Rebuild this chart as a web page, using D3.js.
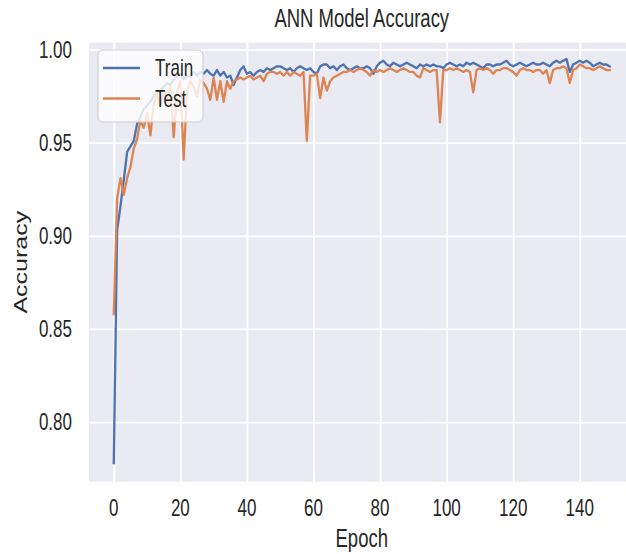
<!DOCTYPE html>
<html>
<head>
<meta charset="utf-8">
<script src="https://cdn.jsdelivr.net/npm/d3@7/dist/d3.min.js"></script>
<style>
  html, body { margin: 0; padding: 0; background: #ffffff; }
  svg { display: block; }
  text { font-family: "Liberation Sans", Arial, sans-serif; fill: #262626; }
</style>
</head>
<body>
<svg id="chart" width="626" height="554"></svg>
<script>
// Training history of the ANN model, one value per epoch
const trainAcc = [
  0.778, 0.903, 0.916, 0.930, 0.945, 0.948, 0.951, 0.960, 0.964, 0.968,
  0.970, 0.972, 0.975, 0.977, 0.978, 0.980, 0.982, 0.981, 0.984, 0.986,
  0.987, 0.984, 0.986, 0.985, 0.988, 0.986, 0.988, 0.987, 0.989, 0.987,
  0.986, 0.989, 0.986, 0.988, 0.985, 0.986, 0.981, 0.985, 0.989, 0.991,
  0.987, 0.988, 0.986, 0.988, 0.989, 0.988, 0.990, 0.989, 0.990, 0.991,
  0.991, 0.990, 0.989, 0.990, 0.988, 0.990, 0.991, 0.990, 0.989, 0.990,
  0.988, 0.987, 0.991, 0.992, 0.992, 0.990, 0.991, 0.989, 0.991, 0.992,
  0.990, 0.989, 0.990, 0.991, 0.990, 0.990, 0.991, 0.990, 0.987, 0.991,
  0.993, 0.994, 0.992, 0.991, 0.993, 0.992, 0.991, 0.992, 0.993, 0.992,
  0.991, 0.990, 0.992, 0.991, 0.992, 0.991, 0.992, 0.991, 0.991, 0.990,
  0.992, 0.993, 0.992, 0.991, 0.992, 0.991, 0.993, 0.992, 0.993, 0.992,
  0.991, 0.990, 0.992, 0.992, 0.991, 0.992, 0.992, 0.993, 0.994, 0.992,
  0.991, 0.992, 0.993, 0.992, 0.991, 0.992, 0.993, 0.992, 0.992, 0.993,
  0.992, 0.991, 0.993, 0.994, 0.993, 0.994, 0.995, 0.988, 0.992, 0.993,
  0.994, 0.993, 0.994, 0.993, 0.991, 0.992, 0.993, 0.992, 0.992, 0.991
];
const testAcc = [
  0.858, 0.920, 0.931, 0.922, 0.931, 0.937, 0.947, 0.952, 0.962, 0.958,
  0.966, 0.954, 0.971, 0.976, 0.970, 0.978, 0.972, 0.980, 0.953, 0.978,
  0.983, 0.941, 0.978, 0.983, 0.980, 0.975, 0.984, 0.982, 0.979, 0.973,
  0.985, 0.973, 0.983, 0.972, 0.983, 0.979, 0.983, 0.984, 0.985, 0.984,
  0.985, 0.986, 0.984, 0.985, 0.986, 0.983, 0.987, 0.988, 0.988, 0.987,
  0.988, 0.986, 0.988, 0.986, 0.988, 0.987, 0.986, 0.988, 0.951, 0.986,
  0.986, 0.987, 0.974, 0.985, 0.978, 0.983, 0.985, 0.986, 0.987, 0.988,
  0.988, 0.989, 0.988, 0.989, 0.990, 0.989, 0.988, 0.986, 0.989, 0.988,
  0.989, 0.988, 0.989, 0.990, 0.989, 0.988, 0.989, 0.990, 0.989, 0.988,
  0.988, 0.986, 0.985, 0.990, 0.989, 0.988, 0.989, 0.989, 0.961, 0.989,
  0.989, 0.990, 0.989, 0.990, 0.989, 0.988, 0.989, 0.988, 0.977, 0.989,
  0.990, 0.989, 0.990, 0.989, 0.987, 0.989, 0.989, 0.990, 0.990, 0.989,
  0.988, 0.986, 0.989, 0.990, 0.989, 0.989, 0.988, 0.989, 0.989, 0.987,
  0.989, 0.982, 0.989, 0.990, 0.990, 0.991, 0.990, 0.982, 0.989, 0.990,
  0.992, 0.991, 0.990, 0.990, 0.989, 0.990, 0.991, 0.990, 0.989, 0.989
];
const xTicks = [0, 20, 40, 60, 80, 100, 120, 140];
const yTicks = [0.80, 0.85, 0.90, 0.95, 1.00];
const seriesNames = ["Train", "Test"];
const seriesColors = ["#4C72B0", "#DD8452"];

const epochs = trainAcc.map((_, i) => i);

const svg = d3.select("#chart");
const W = 626, H = 554;
const plot = { left: 89, right: 634.5, top: 42.7, bottom: 481.7 };
const sx = 0.74; // horizontal squeeze applied to all lettering

const x = d3.scaleLinear().domain([-7.45, 156.45]).range([plot.left, plot.right]);
const y = d3.scaleLinear().domain([0.768, 1.0037]).range([plot.bottom, plot.top]);

// Axes background
svg.append("rect")
  .attr("x", plot.left).attr("y", plot.top)
  .attr("width", plot.right - plot.left).attr("height", plot.bottom - plot.top)
  .attr("fill", "#EAEAF2");

svg.append("clipPath").attr("id", "plotClip")
  .append("rect")
  .attr("x", plot.left).attr("y", plot.top)
  .attr("width", plot.right - plot.left).attr("height", plot.bottom - plot.top);

// Grid lines drawn from the axis generators
const gx = svg.append("g")
  .attr("transform", `translate(0,${plot.bottom})`)
  .call(d3.axisBottom(x).tickValues(xTicks).tickSize(-(plot.bottom - plot.top)).tickFormat(""));
const gy = svg.append("g")
  .attr("transform", `translate(${plot.left},0)`)
  .call(d3.axisLeft(y).tickValues(yTicks).tickSize(-(plot.right - plot.left)).tickFormat(""));
[gx, gy].forEach(g => {
  g.select(".domain").remove();
  g.selectAll(".tick line").attr("stroke", "#ffffff").attr("stroke-width", 1.8);
});

// Tick labels
svg.append("g").selectAll("g")
  .data(xTicks).join("g")
  .attr("transform", d => `translate(${x(d)},516) scale(${sx},1)`)
  .append("text")
  .attr("text-anchor", "middle")
  .attr("font-size", 23)
  .text(d => d3.format("d")(d));

svg.append("g").selectAll("g")
  .data(yTicks).join("g")
  .attr("transform", d => `translate(72,${y(d) + 8.2}) scale(${sx},1)`)
  .append("text")
  .attr("text-anchor", "end")
  .attr("font-size", 23)
  .text(d => d3.format(".2f")(d));

// Series lines
const line = d3.line().x((d, i) => x(epochs[i])).y(d => y(d));
const lines = svg.append("g").attr("clip-path", "url(#plotClip)");
[trainAcc, testAcc].forEach((series, k) => {
  lines.append("path")
    .datum(series)
    .attr("fill", "none")
    .attr("stroke", seriesColors[k])
    .attr("stroke-width", 2.3)
    .attr("stroke-linejoin", "round")
    .attr("stroke-linecap", "square")
    .attr("d", line);
});

// Title and axis labels
svg.append("g")
  .attr("transform", `translate(${(plot.left + plot.right) / 2},27) scale(${sx},1)`)
  .append("text").attr("text-anchor", "middle").attr("font-size", 25)
  .text("ANN Model Accuracy");

svg.append("g")
  .attr("transform", `translate(${(plot.left + plot.right) / 2},547) scale(${sx},1)`)
  .append("text").attr("text-anchor", "middle").attr("font-size", 25)
  .text("Epoch");

svg.append("g")
  .attr("transform", `translate(27,${(plot.top + plot.bottom) / 2}) scale(${sx},1) rotate(-90)`)
  .append("text").attr("text-anchor", "middle").attr("font-size", 25)
  .text("Accuracy");

// Legend
const legend = svg.append("g");
legend.append("rect")
  .attr("x", 98).attr("y", 50).attr("width", 105).attr("height", 72)
  .attr("rx", 5).attr("ry", 5)
  .attr("fill", "#ffffff").attr("fill-opacity", 0.8)
  .attr("stroke", "#cccccc").attr("stroke-width", 1);
const legendRows = [68, 98.5];
seriesNames.forEach((name, k) => {
  legend.append("line")
    .attr("x1", 103).attr("x2", 140)
    .attr("y1", legendRows[k]).attr("y2", legendRows[k])
    .attr("stroke", seriesColors[k]).attr("stroke-width", 2.3);
  legend.append("g")
    .attr("transform", `translate(155,${legendRows[k] + 8}) scale(${sx},1)`)
    .append("text").attr("font-size", 23).text(name);
});
</script>
</body>
</html>
